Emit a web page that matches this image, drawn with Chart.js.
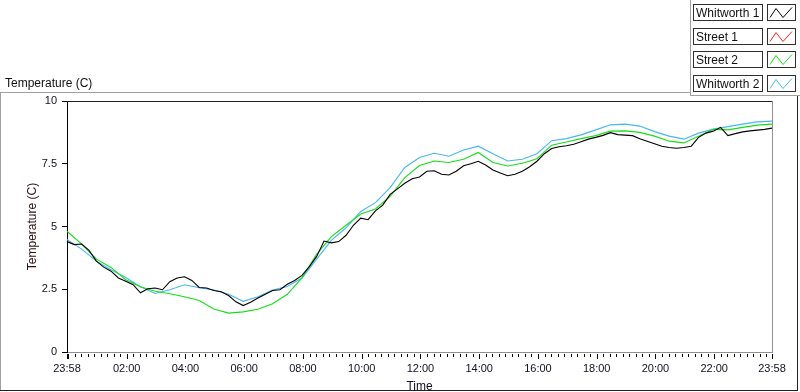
<!DOCTYPE html>
<html>
<head>
<meta charset="utf-8">
<script src="https://cdn.jsdelivr.net/npm/chart.js@4.4.1/dist/chart.umd.min.js"></script>
<style>
  html, body { margin: 0; padding: 0; background: #fff; }
  #wrap { width: 800px; height: 392px; position: relative; }
</style>
</head>
<body>
<div id="wrap"><canvas id="chart" width="800" height="392"></canvas></div>
<script>
// hours after 23:58
const timesHalf = [0, 0.5, 1, 1.5, 2, 2.5, 3, 3.5, 4, 4.5, 5, 5.5, 6, 6.5, 7, 7.5, 8, 8.5, 9, 9.5,
  10, 10.5, 11, 11.5, 12, 12.5, 13, 13.5, 14, 14.5, 15, 15.5, 16, 16.5, 17, 17.5, 18, 18.5, 19, 19.5,
  20, 20.5, 21, 21.5, 22, 22.5, 23, 23.5, 24];
const timesQuarter = [0, 0.25, 0.5, 0.75, 1, 1.25, 1.5, 1.75, 2, 2.25, 2.5, 2.75, 3, 3.25, 3.5, 3.75,
  4, 4.25, 4.5, 4.75, 5, 5.25, 5.5, 5.75, 6, 6.25, 6.5, 6.75, 7, 7.25, 7.5, 7.75,
  8, 8.25, 8.5, 8.75, 9, 9.25, 9.5, 9.75, 10, 10.25, 10.5, 10.75, 11, 11.25, 11.5, 11.75,
  12, 12.25, 12.5, 12.75, 13, 13.25, 13.5, 13.75, 14, 14.25, 14.5, 14.75, 15, 15.25, 15.5, 15.75,
  16, 16.25, 16.5, 16.75, 17, 17.25, 17.5, 17.75, 18, 18.25, 18.5, 18.75, 19, 19.25, 19.5, 19.75,
  20, 20.25, 20.5, 20.75, 21, 21.25, 21.5, 21.75, 22, 22.25, 22.5, 22.75, 23, 23.25, 23.5, 23.75, 24];

const whitworth1 = [4.4, 4.28, 4.3, 4.05, 3.62, 3.38, 3.22, 2.95, 2.82, 2.68, 2.36, 2.52, 2.55, 2.48, 2.8, 2.95,
  3.0, 2.85, 2.57, 2.55, 2.45, 2.4, 2.25, 2.0, 1.85, 1.98, 2.15, 2.3, 2.45, 2.48, 2.7, 2.85,
  3.05, 3.4, 3.81, 4.42, 4.35, 4.4, 4.65, 5.05, 5.33, 5.27, 5.62, 5.85, 6.28, 6.5, 6.72, 6.9,
  6.97, 7.2, 7.22, 7.08, 7.05, 7.2, 7.42, 7.5, 7.6, 7.45, 7.25, 7.13, 7.02, 7.08, 7.2, 7.38,
  7.6, 7.9, 8.11, 8.18, 8.22, 8.28, 8.38, 8.48, 8.55, 8.63, 8.74, 8.66, 8.64, 8.62, 8.5, 8.4,
  8.3, 8.2, 8.15, 8.12, 8.15, 8.2, 8.55, 8.72, 8.8, 8.95, 8.62, 8.7, 8.77, 8.81, 8.84, 8.87, 8.92];
const street1 = [];
const street2 = [4.81, 4.3, 3.7, 3.37, 2.88, 2.6, 2.42, 2.32, 2.2, 2.05, 1.71, 1.55, 1.6, 1.7, 1.92, 2.3,
  2.95, 3.9, 4.6, 5.05, 5.5, 5.7, 6.2, 6.95, 7.43, 7.61, 7.55, 7.68, 7.95, 7.55, 7.41, 7.52,
  7.7, 8.24, 8.37, 8.5, 8.62, 8.8, 8.81, 8.75, 8.6, 8.4, 8.33, 8.6, 8.87, 8.85, 8.95, 9.04, 9.08];
const whitworth2 = [4.48, 4.1, 3.62, 3.28, 2.97, 2.6, 2.33, 2.48, 2.68, 2.56, 2.47, 2.3, 2.02, 2.2, 2.47, 2.61,
  2.95, 3.7, 4.45, 4.95, 5.6, 5.95, 6.55, 7.35, 7.75, 7.92, 7.8, 8.05, 8.2, 7.9, 7.61, 7.68,
  7.9, 8.42, 8.5, 8.65, 8.85, 9.05, 9.08, 9.0, 8.78, 8.6, 8.48, 8.72, 8.88, 8.98, 9.08, 9.17, 9.2];

const tickHours = [0, 2.0333, 4.0333, 6.0333, 8.0333, 10.0333, 12.0333, 14.0333, 16.0333, 18.0333, 20.0333, 22.0333, 24];
const tickLabels = ['23:58', '02:00', '04:00', '06:00', '08:00', '10:00', '12:00', '14:00', '16:00', '18:00', '20:00', '22:00', '23:58'];

const seriesNames = ['Whitworth 1', 'Street 1', 'Street 2', 'Whitworth 2'];
const seriesColors = ['#000000', '#ff2020', '#14e014', '#44b8f0'];

const pts = (ts, vs) => vs.map((v, i) => ({ x: ts[i], y: v }));

const FONT = '"Liberation Sans", Arial, sans-serif';

// frame, minor ticks, title and the LabVIEW style legend
const decor = {
  id: 'decor',
  afterDraw(chart) {
    const ctx = chart.ctx, a = chart.chartArea, xs = chart.scales.x;
    ctx.save();
    ctx.lineWidth = 1;
    // plot border
    ctx.strokeStyle = '#202020';
    ctx.beginPath(); ctx.moveTo(a.left, a.top + 0.5); ctx.lineTo(a.right, a.top + 0.5); ctx.stroke();
    ctx.strokeStyle = '#909090';
    ctx.beginPath(); ctx.moveTo(a.right + 0.5, a.top); ctx.lineTo(a.right + 0.5, a.bottom); ctx.stroke();

    // x tick marks
    ctx.strokeStyle = '#000';
    const tick = (h, len) => {
      const px = Math.round(xs.getPixelForValue(h)) + 0.5;
      ctx.beginPath(); ctx.moveTo(px, a.bottom + 2); ctx.lineTo(px, a.bottom + 2 + len); ctx.stroke();
    };
    for (let i = 0; ; i++) {
      const h = 2 / 60 + i * 2 / 9;
      if (h > 24) break;
      tick(h, i % 9 === 0 ? 5 : 3);
    }
    tick(0, 5); tick(24, 5);

    // outer frame
    ctx.strokeStyle = '#a0a0a0';
    ctx.beginPath(); ctx.moveTo(0, 92.5); ctx.lineTo(690, 92.5); ctx.stroke();
    ctx.beginPath(); ctx.moveTo(0.5, 92); ctx.lineTo(0.5, 391); ctx.stroke();
    ctx.strokeStyle = '#202020';
    ctx.beginPath(); ctx.moveTo(0, 390.5); ctx.lineTo(798, 390.5); ctx.stroke();
    ctx.beginPath(); ctx.moveTo(797.5, 95); ctx.lineTo(797.5, 391); ctx.stroke();

    // legend panel
    ctx.strokeStyle = '#a0a0a0';
    ctx.beginPath(); ctx.moveTo(690.5, 0); ctx.lineTo(690.5, 95); ctx.stroke();
    ctx.beginPath(); ctx.moveTo(690, 95.5); ctx.lineTo(800, 95.5); ctx.stroke();

    // title
    ctx.fillStyle = '#101010';
    ctx.font = '12px ' + FONT;
    ctx.textBaseline = 'alphabetic';
    ctx.textAlign = 'left';
    ctx.fillText('Temperature (C)', 5, 87);

    seriesNames.forEach((name, i) => {
      const y = 4 + i * 23.7;
      const yt = Math.round(y) + 0.5;
      ctx.strokeStyle = '#303030';
      ctx.fillStyle = '#fff';
      ctx.fillRect(693, yt, 69, 16);
      ctx.strokeRect(693.5, yt, 69, 16);
      ctx.strokeRect(767.5, yt, 28, 16);
      ctx.fillStyle = '#101010';
      ctx.fillText(name, 696, yt + 12.5);
      ctx.strokeStyle = seriesColors[i];
      ctx.beginPath();
      ctx.moveTo(770, yt + 13); ctx.lineTo(776, yt + 4);
      ctx.lineTo(783, yt + 13); ctx.lineTo(792, yt + 3);
      ctx.stroke();
    });
    ctx.restore();
  }
};

new Chart(document.getElementById('chart'), {
  type: 'line',
  data: {
    datasets: [
      { label: seriesNames[0], data: pts(timesQuarter, whitworth1), borderColor: seriesColors[0], order: 0 },
      { label: seriesNames[1], data: pts(timesHalf, street1), borderColor: seriesColors[1], order: 1 },
      { label: seriesNames[2], data: pts(timesHalf, street2), borderColor: seriesColors[2], order: 2 },
      { label: seriesNames[3], data: pts(timesHalf, whitworth2), borderColor: seriesColors[3], order: 3 }
    ]
  },
  options: {
    responsive: false,
    animation: false,
    devicePixelRatio: 1,
    events: [],
    layout: { padding: { left: 0, right: 28, top: 101, bottom: 0 } },
    elements: {
      line: { borderWidth: 1.1, tension: 0, fill: false },
      point: { radius: 0 }
    },
    plugins: { legend: { display: false }, tooltip: { enabled: false } },
    scales: {
      x: {
        type: 'linear',
        min: 0,
        max: 24,
        afterFit(s) { s.height = 40; },
        afterBuildTicks(s) { s.ticks = tickHours.map(v => ({ value: v })); },
        grid: { display: false },
        border: { display: true, color: '#909090', width: 1 },
        ticks: {
          autoSkip: false,
          maxRotation: 0,
          padding: 2,
          color: '#101020',
          font: { family: FONT, size: 11 },
          callback: (v, i) => tickLabels[i]
        },
        title: {
          display: true,
          text: 'Time',
          color: '#101020',
          font: { family: FONT, size: 12 },
          padding: { top: 0, bottom: -2 }
        }
      },
      y: {
        min: 0,
        max: 10,
        afterFit(s) { s.width = 67; },
        grid: { display: true, drawOnChartArea: false, drawTicks: true, tickLength: 5, color: '#000' },
        border: { display: true, color: '#000', width: 1 },
        ticks: {
          stepSize: 2.5,
          padding: 5,
          color: '#101020',
          font: { family: FONT, size: 11 }
        },
        title: {
          display: true,
          text: 'Temperature (C)',
          color: '#2a1010',
          font: { family: FONT, size: 12 },
          padding: { top: 25, bottom: 0 }
        }
      }
    }
  },
  plugins: [decor]
});
</script>
</body>
</html>
